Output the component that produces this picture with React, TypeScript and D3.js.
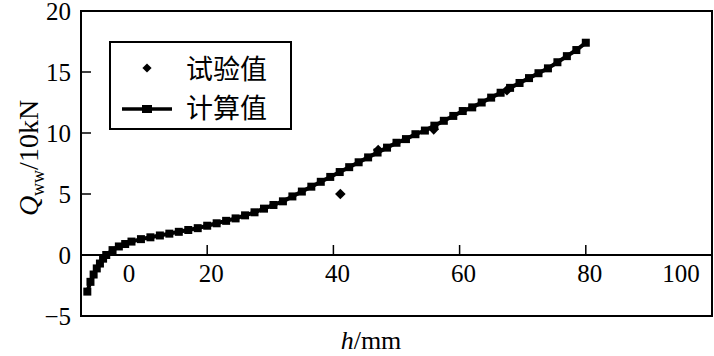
import React from "react";
import * as d3 from "d3";

const calcH = [1.0, 1.5, 2.0, 2.5, 3.0, 3.5, 4.0, 5.0, 6.0, 7.0, 8.0, 9.5, 11, 12.5, 14, 15.5, 17, 18.5, 20, 21.5, 23, 24.5, 26, 27.5, 29, 30.5, 32, 33.5, 35, 36.5, 38, 39.5, 41, 42.5, 44, 45.5, 47, 48.5, 50, 51.5, 53, 54.5, 56, 57.5, 59, 60.5, 62, 63.5, 65, 66.5, 68, 69.5, 71, 72.5, 74, 75.5, 77, 78.5, 80];
const calcQ = [-3.0, -2.2, -1.6, -1.1, -0.7, -0.3, 0.0, 0.4, 0.7, 0.9, 1.1, 1.3, 1.45, 1.6, 1.75, 1.9, 2.05, 2.2, 2.4, 2.6, 2.8, 3.0, 3.25, 3.5, 3.8, 4.1, 4.4, 4.8, 5.2, 5.6, 6.0, 6.4, 6.8, 7.2, 7.6, 8.0, 8.4, 8.8, 9.2, 9.5, 9.9, 10.2, 10.6, 11.0, 11.4, 11.8, 12.1, 12.5, 12.9, 13.3, 13.7, 14.1, 14.5, 14.9, 15.3, 15.8, 16.3, 16.8, 17.4];
const testH = [41.1, 47.1, 55.9, 67.5];
const testQ = [5.0, 8.6, 10.3, 13.5];
const yTicks = [20, 15, 10, 5, 0, -5];
const xTicks = [0, 20, 40, 60, 80, 100];

const W = 714, H = 356;
const x = d3.scaleLinear().domain([0, 100]).range([81, 712]);
const y = d3.scaleLinear().domain([-5, 20]).range([316, 11]);
const font = "'Liberation Serif', 'Times New Roman', serif";
const cjk = "'Noto Sans CJK SC', sans-serif";

const xLabelPos = (v: number) => (v === 0 ? x(0) + 48 : v === 100 ? x(100) - 31 : x(v) + 4);

const Diamond = ({ cx, cy, s }: { cx: number; cy: number; s: number }) => (
  <rect x={-s / 2} y={-s / 2} width={s} height={s} fill="#000" transform={`translate(${cx},${cy}) rotate(45)`} />
);

export default function App() {
  const pts = calcH.map((h, i) => [h, calcQ[i]] as [number, number]);
  const line = d3.line<[number, number]>().x(d => x(d[0])).y(d => y(d[1]));
  return (
    <svg width={W} height={H} style={{ position: "absolute", left: 0, top: 0, background: "#fff" }}>
      <rect x={x(0)} y={y(20)} width={x(100) - x(0)} height={y(-5) - y(20)} fill="none" stroke="#000" strokeWidth={2} />
      <line x1={x(0)} x2={x(100)} y1={y(0)} y2={y(0)} stroke="#000" strokeWidth={2} />
      {yTicks.map(t => (
        <g key={"y" + t}>
          {t !== 20 && t !== -5 && t !== 0 && <line x1={x(0)} x2={x(0) + 10} y1={y(t)} y2={y(t)} stroke="#000" strokeWidth={1.5} />}
          <text x={71} y={y(t) + 9} textAnchor="end" fontFamily={font} fontSize={25}>{t < 0 ? "\u2212" + Math.abs(t) : t}</text>
        </g>
      ))}
      {xTicks.map(t => (
        <g key={"x" + t}>
          {t !== 0 && t !== 100 && <line x1={x(t)} x2={x(t)} y1={y(0)} y2={y(0) - 10} stroke="#000" strokeWidth={1.5} />}
          <text x={xLabelPos(t)} y={y(0) + 27} textAnchor="middle" fontFamily={font} fontSize={25}>{t}</text>
        </g>
      ))}
      <path d={line(pts) || ""} fill="none" stroke="#000" strokeWidth={4} />
      {pts.map((p, i) => (
        <rect key={"c" + i} x={x(p[0]) - 4} y={y(p[1]) - 4} width={8} height={8} fill="#000" />
      ))}
      {testH.map((h, i) => (
        <Diamond key={"t" + i} cx={x(h)} cy={y(testQ[i])} s={7.5} />
      ))}
      <rect x={110} y={42} width={181} height={87} fill="#fff" stroke="#000" strokeWidth={2} />
      <Diamond cx={147} cy={68} s={6.5} />
      <text x={186} y={79} fontFamily={cjk} fontSize={27}>试验值</text>
      <line x1={122} x2={172} y1={109} y2={109} stroke="#000" strokeWidth={3.5} />
      <rect x={142} y={105} width={10} height={8} fill="#000" />
      <text x={186} y={118} fontFamily={cjk} fontSize={27}>计算值</text>
      <text x={371} y={349} textAnchor="middle" fontFamily={font} fontSize={26}>
        <tspan fontStyle="italic">h</tspan>/mm
      </text>
      <text transform="translate(38,158) rotate(-90)" textAnchor="middle" fontFamily={font} fontSize={28}>
        <tspan fontStyle="italic">Q</tspan>
        <tspan fontSize={18} dy={6}>ww</tspan>
        <tspan dy={-6}>/10kN</tspan>
      </text>
    </svg>
  );
}
